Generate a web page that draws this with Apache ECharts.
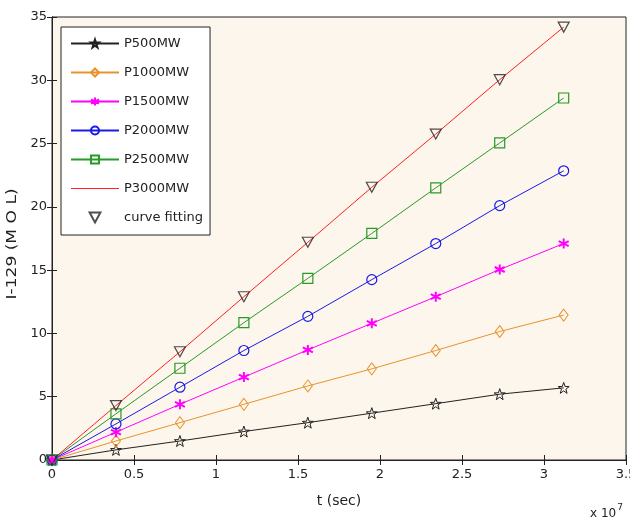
<!DOCTYPE html>
<html>
<head>
<meta charset="utf-8">
<script src="https://cdn.jsdelivr.net/npm/echarts@6/dist/echarts.min.js"></script>
<style>
  html, body { margin: 0; padding: 0; background: #fff; }
  #chart { width: 630px; height: 518px; }
</style>
</head>
<body>
<div id="chart"></div>
<script>
// Time samples (units of 1e7 s)
const tValues = [0, 0.39, 0.78, 1.17, 1.56, 1.95, 2.34, 2.73, 3.12];

// Accumulated I-129 (mol) per reactor power level
const p500  = [0, 0.8, 1.5, 2.25, 2.95, 3.7, 4.45, 5.2, 5.7];
const p1000 = [0, 1.5, 2.95, 4.4, 5.85, 7.2, 8.65, 10.15, 11.45];
const p1500 = [0, 2.2, 4.4, 6.55, 8.7, 10.8, 12.9, 15.05, 17.1];
const p2000 = [0, 2.85, 5.75, 8.65, 11.35, 14.25, 17.1, 20.1, 22.85];
const p2500 = [0, 3.65, 7.25, 10.85, 14.35, 17.9, 21.5, 25.05, 28.6];
const p3000 = [0, 4.3, 8.55, 12.9, 17.2, 21.55, 25.75, 30.05, 34.2];
const fitting = [0, 4.3, 8.55, 12.9, 17.2, 21.55, 25.75, 30.05, 34.2];

const legendNames = ['P500MW', 'P1000MW', 'P1500MW', 'P2000MW', 'P2500MW', 'P3000MW', 'curve fitting'];

const xTicks = { min: 0, max: 3.5, step: 0.5 };
const yTicks = { min: 0, max: 35, step: 5 };

const FONT = 'DejaVu Sans';
const pair = arr => arr.map((v, i) => [tValues[i], v]);

// Hollow marker outlines
const SYM = {
  star: 'path://M0,-10L2.35,-3.24L9.51,-3.09L3.8,1.24L5.88,8.09L0,4L-5.88,8.09L-3.8,1.24L-9.51,-3.09L-2.35,-3.24Z',
  diamond: 'path://M0,-1L0.72,0L0,1L-0.72,0Z',
  asterisk: 'path://M0,-1L0,1M-0.87,-0.5L0.87,0.5M-0.87,0.5L0.87,-0.5M-0.05,-0.05L0.05,0.05',
  circle: 'path://M1,0A1,1,0,1,1,-1,0A1,1,0,1,1,1,0Z',
  square: 'path://M-1,-1L1,-1L1,1L-1,1Z',
  triDown: 'path://M-1,-0.85L1,-0.85L0,1Z',
  bar: 'path://M0,0L48,0L48,1.2L0,1.2Z'
};

function lineSeries(name, data, color, symbol, size, bw) {
  return {
    name, type: 'line', data: pair(data),
    symbol: symbol || 'none', symbolSize: size || 10,
    showSymbol: !!symbol,
    lineStyle: { color, width: 1 },
    itemStyle: { color: 'rgba(0,0,0,0)', borderColor: color, borderWidth: bw || 1 },
    emphasis: { disabled: true },
    animation: false, z: 3
  };
}

const chart = echarts.init(document.getElementById('chart'), null, { renderer: 'canvas' });

const axisLine = { show: true, lineStyle: { color: '#222', width: 1 } };
const tickIn = { show: true, inside: true, length: 5, lineStyle: { color: '#222' } };
const labelStyle = { color: '#222', fontFamily: FONT, fontSize: 13 };

chart.setOption({
  backgroundColor: '#ffffff',
  animation: false,
  grid: {
    left: 52, right: 4, top: 17, bottom: 58,
    outerBoundsMode: 'none', containLabel: false,
    show: true, backgroundColor: '#fdf6ec', borderColor: '#222', borderWidth: 1
  },
  xAxis: [
    {
      type: 'value', min: xTicks.min, max: xTicks.max, interval: xTicks.step,
      position: 'bottom',
      axisLine, axisTick: tickIn, splitLine: { show: false },
      axisLabel: { ...labelStyle, margin: 8, showMaxLabel: true },
      name: 't (sec)', nameLocation: 'middle', nameGap: 34,
      nameTextStyle: { color: '#222', fontFamily: FONT, fontSize: 14 }
    },
    {
      type: 'value', min: xTicks.min, max: xTicks.max, interval: xTicks.step,
      position: 'top',
      axisLine, axisTick: tickIn, splitLine: { show: false },
      axisLabel: { show: false }
    }
  ],
  yAxis: [
    {
      type: 'value', min: yTicks.min, max: yTicks.max, interval: yTicks.step,
      position: 'left',
      axisLine, axisTick: tickIn, splitLine: { show: false },
      axisLabel: { ...labelStyle, margin: 5 }
    },
    {
      type: 'value', min: yTicks.min, max: yTicks.max, interval: yTicks.step,
      position: 'right',
      axisLine, axisTick: tickIn, splitLine: { show: false },
      axisLabel: { show: false }
    }
  ],
  legend: {
    orient: 'vertical',
    left: 61, top: 27,
    padding: [10, 7, 11, 9],
    itemWidth: 48, itemHeight: 10, itemGap: 16,
    backgroundColor: '#ffffff', borderColor: '#222', borderWidth: 1, borderRadius: 0,
    textStyle: { color: '#222', fontFamily: FONT, fontSize: 13 },
    selectedMode: false,
    data: legendNames.map(n => n === 'P3000MW'
      ? { name: n, icon: SYM.bar, itemStyle: { color: '#ff2020', borderWidth: 0 } }
      : { name: n })
  },
  graphic: [
    {
      type: 'text', x: 12, y: 244, rotation: Math.PI / 2, scaleX: 1.22,
      style: {
        text: 'I-129 (M O L)', fill: '#222', font: '14px "DejaVu Sans"',
        textAlign: 'center', textVerticalAlign: 'middle'
      }
    },
    {
      type: 'text', x: 590, y: 503,
      style: {
        text: '{b|x 10}{s|7}', fill: '#222',
        rich: {
          b: { fontFamily: FONT, fontSize: 12, color: '#222', verticalAlign: 'bottom' },
          s: { fontFamily: FONT, fontSize: 9, color: '#222', padding: [0, 0, 8, 1] }
        }
      }
    }
  ],
  series: [
    lineSeries('P500MW', p500, '#222222', SYM.star, 11, 1),
    lineSeries('P1000MW', p1000, '#e8922c', SYM.diamond, [9, 12], 1),
    lineSeries('P1500MW', p1500, '#ff00ff', SYM.asterisk, 10, 2),
    lineSeries('P2000MW', p2000, '#1a1ae6', SYM.circle, 10, 1.2),
    lineSeries('P2500MW', p2500, '#279a27', SYM.square, 10, 1.2),
    lineSeries('P3000MW', p3000, '#ff2020', null),
    {
      name: 'curve fitting', type: 'scatter', data: pair(fitting),
      symbol: SYM.triDown, symbolSize: [11, 10],
      itemStyle: { color: 'rgba(0,0,0,0)', borderColor: '#222', borderWidth: 1.2 },
      emphasis: { disabled: true },
      animation: false, z: 4
    }
  ]
});
</script>
</body>
</html>
